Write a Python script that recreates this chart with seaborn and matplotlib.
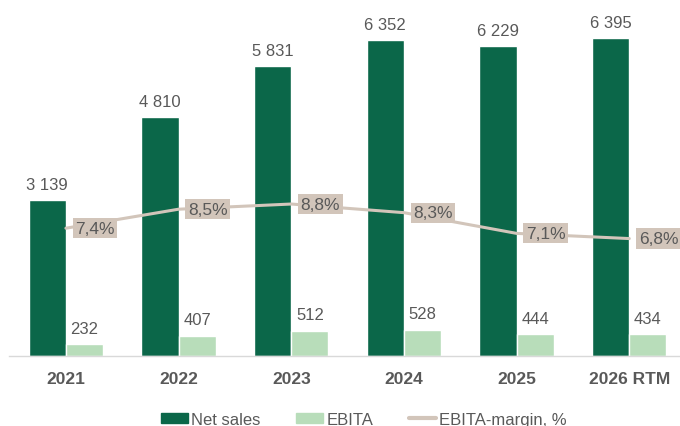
import numpy as np
import pandas as pd
import matplotlib
matplotlib.use("Agg")
import matplotlib.pyplot as plt
import seaborn as sns
from matplotlib.patches import Patch
from matplotlib.lines import Line2D

years = ["2021", "2022", "2023", "2024", "2025", "2026 RTM"]
net_sales = [3139, 4810, 5831, 6352, 6229, 6395]
ebita = [232, 407, 512, 528, 444, 434]
margin = [7.4, 8.5, 8.8, 8.3, 7.1, 6.8]
margin_labels = ["7,4%", "8,5%", "8,8%", "8,3%", "7,1%", "6,8%"]

DARK = "#0B6749"
LIGHT = "#B8DDBA"
BEIGE = "#D2C5BA"
TXT = "#595959"

sns.set_theme(style="white")
plt.rcParams['font.family'] = ['Liberation Sans', 'DejaVu Sans']

df = pd.DataFrame({
    "year": years * 2,
    "value": net_sales + ebita,
    "series": ["Net sales"] * 6 + ["EBITA"] * 6,
})

fig = plt.figure(figsize=(6.8, 4.27), dpi=100)
ax = fig.add_axes([9 / 680, 1 - 357 / 427, 671 / 680, 357 / 427])
sns.barplot(data=df, x="year", y="value", hue="series", order=years,
            hue_order=["Net sales", "EBITA"], palette=[DARK, LIGHT],
            width=0.66, gap=0, ax=ax, legend=False, saturation=1)
ax.set_ylim(0, 7180)
ax.set_xlim(-0.505, 5.45)
ax.set_xlabel("")
ax.set_ylabel("")
ax.set_yticks([])
for s in ["top", "right", "left"]:
    ax.spines[s].set_visible(False)
ax.spines["bottom"].set_color("#D9D9D9")
ax.spines["bottom"].set_linewidth(1)
ax.tick_params(axis="x", length=0, pad=11)
for lab in ax.get_xticklabels():
    lab.set_fontweight("bold")
    lab.set_fontsize(12.5)
    lab.set_color(TXT)

for cont, vals in zip(ax.containers, [net_sales, ebita]):
    labels = [f"{v:,}".replace(",", " ") for v in vals]
    ax.bar_label(cont, labels=labels, padding=6, fontsize=12, color=TXT)

ax2 = ax.twinx()
x = np.arange(len(years))
sns.lineplot(x=x, y=margin, ax=ax2, color=BEIGE, linewidth=2.2)
ax2.set_ylim(0, 357 / 17.27)
ax2.set_yticks([])
for s in ["top", "right", "left", "bottom"]:
    ax2.spines[s].set_visible(False)
for xi, m, lab in zip(x, margin, margin_labels):
    ax2.annotate(lab, (xi, m), xytext=(21, 0), textcoords="offset points",
                 ha="center", va="center", fontsize=12.5, color=TXT,
                 bbox=dict(boxstyle="square,pad=0.15", fc=BEIGE, ec="none"))

handles = [Patch(color=DARK, label="Net sales"),
           Patch(color=LIGHT, label="EBITA"),
           Line2D([0], [0], color=BEIGE, lw=3, label="EBITA-margin, %")]
leg = fig.legend(handles=handles, loc="center", bbox_to_anchor=(0.535, 0.016),
                 ncol=3, frameon=False, fontsize=12, handlelength=1.65,
                 handleheight=0.5, handletextpad=0.2, columnspacing=2.1)
for t in leg.get_texts():
    t.set_color(TXT)

fig.savefig("out.png", dpi=100)
